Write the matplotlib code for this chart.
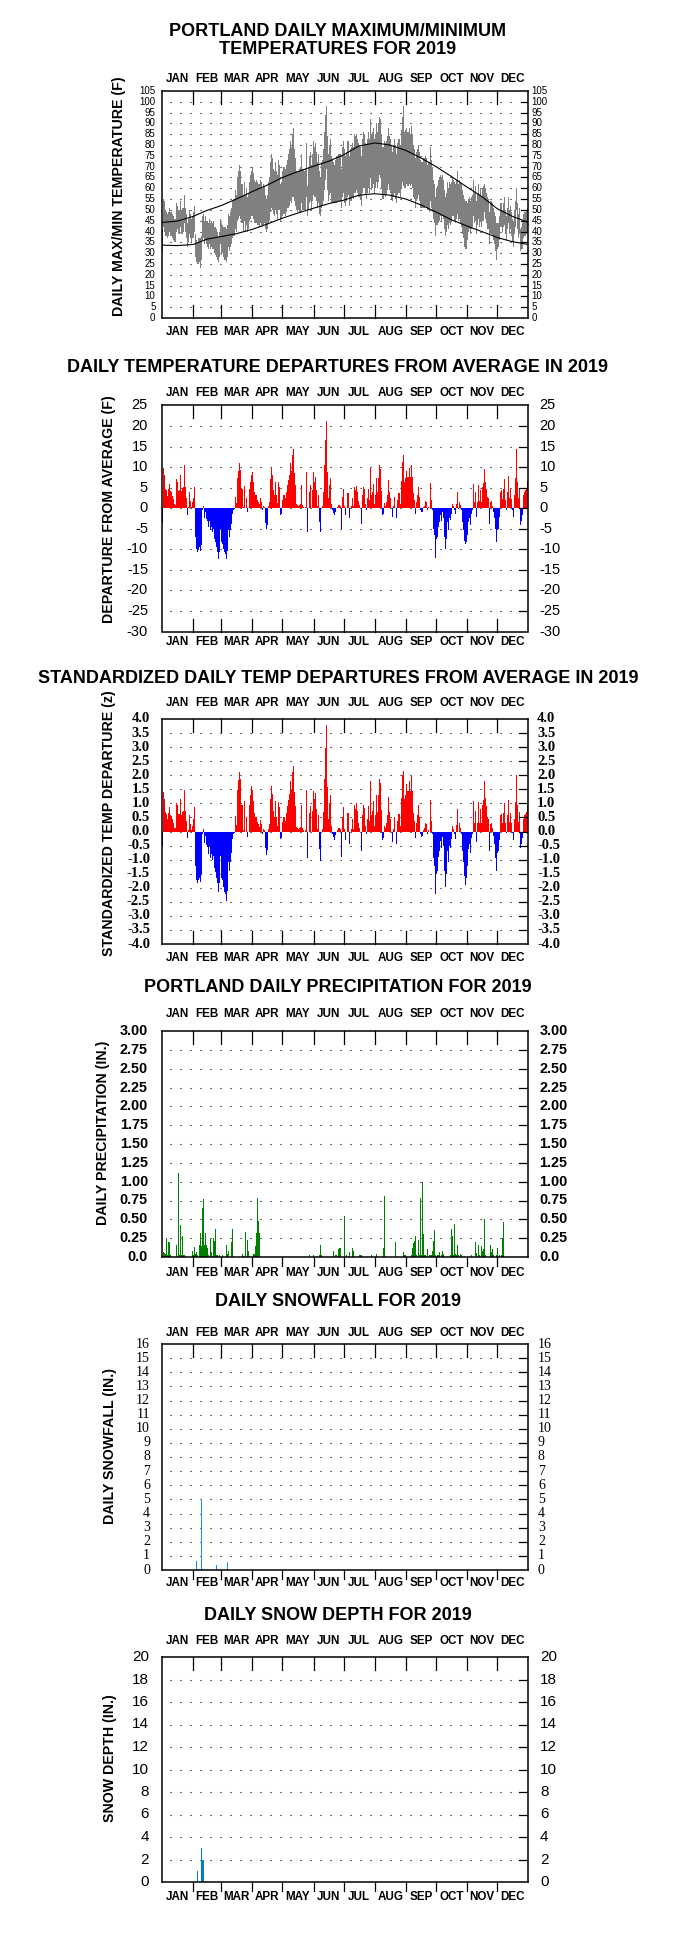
import numpy as np
import matplotlib.pyplot as plt
from matplotlib.transforms import blended_transform_factory as blend

W, H = 680, 1955
fig = plt.figure(figsize=(W / 100, H / 100), dpi=100)

MONTHS = ["JAN", "FEB", "MAR", "APR", "MAY", "JUN", "JUL", "AUG", "SEP", "OCT", "NOV", "DEC"]
MONTH_DAYS = [31, 28, 31, 30, 31, 30, 31, 31, 30, 31, 30, 31]

# daily max / min temperature (F), one row per month
tmax = [
    41, 55, 54, 50, 49, 48, 49, 51, 49, 49, 48, 47, 46, 46, 53, 52, 50, 50, 54, 50, 51, 51, 57, 51, 48, 44, 46, 50, 48, 46, 47,
    49, 52, 39, 36, 35, 37, 37, 37, 38, 47, 48, 45, 47, 45, 45, 44, 46, 44, 45, 44, 45, 42, 42, 41, 40, 38, 40, 46,
    44, 43, 42, 42, 42, 41, 43, 48, 47, 49, 51, 54, 55, 55, 59, 57, 65, 68, 71, 68, 62, 62, 57, 63, 57, 60, 56, 58, 63, 66, 68,
    70, 67, 64, 63, 64, 63, 62, 62, 64, 63, 60, 62, 61, 57, 55, 57, 63, 65, 72, 76, 74, 69, 68, 72, 68, 66, 73, 71, 62, 63,
    68, 70, 69, 71, 73, 76, 78, 82, 79, 85, 88, 78, 74, 68, 68, 68, 69, 70, 76, 69, 69, 68, 69, 81, 61, 70, 75, 77, 71, 76, 82,
    79, 81, 77, 72, 76, 68, 65, 72, 73, 78, 86, 94, 98, 84, 76, 80, 83, 75, 73, 72, 71, 73, 75, 75, 76, 76, 76, 69, 79, 82,
    78, 75, 77, 82, 82, 75, 78, 79, 81, 79, 85, 84, 85, 83, 81, 80, 79, 75, 83, 86, 85, 81, 80, 83, 86, 83, 92, 85, 86, 88, 83,
    85, 90, 86, 90, 93, 92, 85, 79, 79, 82, 81, 82, 84, 88, 84, 83, 80, 77, 80, 83, 80, 76, 81, 83, 83, 80, 87, 93, 98, 86, 87,
    88, 86, 86, 88, 85, 89, 85, 80, 78, 74, 77, 78, 80, 77, 73, 72, 72, 74, 74, 75, 74, 71, 72, 72, 79, 73, 70, 64, 62, 56,
    60, 61, 64, 65, 66, 65, 66, 64, 59, 56, 58, 63, 60, 63, 62, 63, 65, 64, 63, 62, 64, 68, 62, 64, 63, 62, 59, 57, 55, 54, 54,
    53, 55, 56, 54, 56, 57, 64, 58, 61, 54, 58, 62, 57, 60, 56, 60, 61, 62, 60, 58, 56, 55, 49, 54, 54, 53, 51, 49, 47, 44,
    44, 44, 47, 53, 53, 50, 53, 56, 50, 47, 51, 56, 50, 52, 49, 46, 45, 50, 54, 60, 53, 48, 51, 41, 42, 44, 48, 49, 49, 50, 51,
]
tmin = [
    30, 42, 40, 38, 38, 37, 38, 40, 38, 38, 37, 36, 35, 35, 40, 41, 39, 39, 42, 39, 39, 40, 44, 40, 37, 33, 35, 39, 37, 35, 37,
    37, 40, 28, 26, 25, 25, 26, 23, 27, 36, 37, 34, 36, 34, 33, 32, 34, 32, 33, 32, 32, 30, 29, 28, 27, 26, 28, 34,
    29, 30, 28, 27, 27, 26, 28, 33, 31, 33, 34, 37, 38, 38, 41, 40, 45, 46, 47, 46, 44, 44, 40, 45, 40, 43, 40, 41, 45, 46, 47,
    47, 46, 44, 44, 44, 43, 43, 42, 44, 43, 42, 43, 44, 41, 40, 41, 44, 45, 49, 51, 50, 48, 47, 50, 48, 46, 50, 50, 45, 46,
    47, 48, 47, 49, 51, 51, 52, 54, 53, 56, 56, 54, 52, 50, 49, 50, 49, 49, 53, 50, 50, 50, 50, 56, 47, 50, 53, 54, 50, 54, 57,
    56, 56, 54, 51, 53, 48, 47, 51, 52, 54, 59, 64, 69, 59, 54, 57, 58, 53, 53, 53, 53, 53, 53, 54, 54, 54, 54, 51, 56, 58,
    53, 52, 54, 56, 57, 52, 54, 54, 56, 55, 58, 58, 59, 58, 56, 56, 55, 52, 58, 60, 60, 57, 55, 58, 60, 58, 65, 59, 60, 62, 58,
    60, 63, 60, 63, 66, 65, 60, 55, 55, 57, 56, 57, 59, 62, 59, 58, 55, 54, 56, 58, 55, 53, 57, 58, 58, 56, 60, 63, 61, 60, 60,
    62, 61, 61, 62, 61, 62, 60, 56, 55, 51, 54, 55, 57, 54, 51, 51, 51, 51, 51, 52, 51, 50, 50, 49, 54, 51, 49, 46, 44, 38,
    43, 43, 44, 45, 47, 45, 47, 46, 41, 38, 40, 43, 41, 44, 43, 45, 47, 47, 45, 44, 46, 48, 45, 46, 44, 42, 39, 37, 33, 32, 32,
    36, 40, 41, 39, 41, 42, 47, 44, 45, 39, 43, 46, 42, 45, 42, 45, 45, 49, 46, 44, 41, 41, 34, 39, 39, 38, 36, 34, 31, 27,
    32, 33, 36, 42, 42, 40, 42, 43, 39, 36, 41, 44, 39, 41, 38, 35, 33, 39, 42, 50, 41, 37, 39, 31, 32, 32, 37, 38, 38, 39, 40,
]

# normal max / min, read at roughly half-month points
norm_day = [0, 15, 31, 45, 59, 74, 90, 105, 120, 135, 151, 166, 181, 196, 212, 227, 243, 258, 273, 288, 304, 319, 334, 349, 365]
norm_hi = [44.2, 44.8, 47, 49.8, 52, 55, 58.5, 61.5, 65, 67.7, 70.2, 72.5, 75.5, 79.5, 81, 80, 77.5, 74, 70, 65.5, 60.5, 56, 50.5, 47, 44.2]
norm_lo = [33.7, 33.5, 34, 36.5, 37.7, 39, 41, 43.5, 46.2, 48.5, 50.8, 52.9, 54.5, 56.8, 57.5, 56.8, 55, 52.3, 49, 45.5, 42.5, 39.9, 37.2, 35.3, 34]

# daily departure from average (F)
departure = [
    -3.6, 9.8, 8.0, 4.8, 4.4, 3.0, 4.6, 6.0, 4.2, 3.9, 3.0, 2.2, 1.0, 0.8, 7.0, 6.5, 4.3, 4.4, 8.0, 4.2, 5.0, 5.2, 10.4, 5.2, 2.5, -1.7, 0.3, 4.0, 1.8, 0.4, 1.5,
    2.5, 5.1, -7.0, -9.9, -10.7, -10.1, -9.5, -10.5, -9.0, -0.5, 0.5, -2.4, -1.0, -2.7, -3.2, -4.6, -3.2, -5.4, -4.6, -5.8, -5.0, -7.5, -8.3, -9.5, -10.7, -12.4, -10.7, -5.0,
    -8.3, -8.7, -9.9, -10.7, -11.1, -12.4, -10.5, -5.4, -7.0, -5.4, -3.8, -1.3, -0.5, -0.3, 2.8, 1.2, 7.3, 9.1, 11.0, 9.3, 4.8, 4.8, 0.3, 5.5, 0.0, 2.5, -0.9, 0.0, 4.8, 6.5, 8.1,
    8.8, 6.5, 4.0, 3.2, 3.2, 2.0, 1.6, 1.0, 2.4, 1.5, -0.5, 0.5, 0.3, -3.5, -5.0, -4.0, 0.5, 1.6, 7.0, 9.8, 8.0, 4.4, 3.2, 6.5, 3.2, 1.2, 6.3, 5.2, -1.7, -1.3,
    2.0, 3.2, 2.4, 4.0, 5.6, 6.9, 8.1, 11.0, 9.0, 13.0, 14.3, 8.5, 5.6, 1.0, 0.7, 0.5, 0.7, 1.0, 5.7, 0.7, 0.3, 0.0, 0.3, 8.9, -5.8, 0.0, 4.0, 5.6, 0.0, 4.4, 8.8,
    6.5, 7.7, 4.4, 0.5, 3.2, -3.4, -5.8, 0.0, 0.5, 4.0, 10.4, 16.7, 21.2, 8.9, 2.4, 5.6, 7.3, 1.1, -0.5, -1.2, -1.7, -0.8, 0.0, 0.3, 0.7, 0.7, 0.5, -5.0, 2.8, 4.8,
    0.5, -1.7, 0.0, 3.6, 3.6, -2.5, 0.0, 0.5, 2.4, 0.5, 5.2, 4.4, 5.4, 4.0, 1.7, 0.7, 0.0, -3.8, 3.2, 5.2, 4.6, 1.1, -0.5, 2.4, 4.8, 2.0, 9.8, 3.2, 4.0, 5.8, 1.1,
    3.2, 7.3, 4.0, 7.3, 10.4, 9.6, 4.3, -1.7, -1.3, 1.2, 0.6, 1.6, 3.2, 6.9, 3.9, 2.4, 0.0, -2.1, 0.5, 2.8, 0.0, -2.5, 2.0, 3.6, 3.6, 1.1, 6.6, 11.2, 13.0, 6.5, 7.3,
    9.1, 7.7, 7.7, 9.8, 7.7, 10.6, 7.7, 3.6, 2.0, -1.3, 1.6, 3.2, 5.2, 2.8, -0.5, -1.0, -0.9, 0.3, 0.6, 1.7, 1.4, -0.5, 0.3, 0.0, 6.1, 2.0, -0.5, -5.0, -6.6, -12.0,
    -7.5, -7.0, -4.6, -3.4, -1.7, -3.0, -0.9, -2.5, -7.0, -9.9, -7.5, -3.4, -5.4, -2.5, -2.9, -1.3, 1.0, 0.5, -0.5, -1.3, 1.1, 4.0, -0.1, 1.6, 0.7, -0.5, -3.4, -5.4, -7.9, -8.7, -8.3,
    -6.6, -3.4, -2.5, -4.2, -1.3, -0.5, 5.8, 1.6, 4.0, -2.1, 1.6, 5.6, 1.7, 4.4, 1.6, 5.2, 6.1, 9.6, 6.5, 4.8, 2.8, 2.4, -3.8, 1.4, 1.7, 0.6, -0.9, -2.5, -5.0, -8.3,
    -5.4, -5.0, -2.1, 4.0, 4.4, 2.2, 4.6, 7.1, 2.0, -0.5, 4.0, 7.9, 2.4, 4.6, 2.2, -0.5, -2.1, 3.2, 7.3, 14.5, 6.5, 2.4, 4.8, -4.2, -3.0, -1.7, 3.2, 4.0, 4.4, 5.0, 6.6,
]

# standardized daily departure (z)
std_dep = [
    -0.51, 1.40, 1.14, 0.69, 0.63, 0.43, 0.66, 0.86, 0.60, 0.56, 0.43, 0.31, 0.14, 0.11, 1.00, 0.93, 0.61, 0.63, 1.14, 0.60, 0.71, 0.74, 1.49, 0.74, 0.36, -0.24, 0.04, 0.57, 0.26, 0.06, 0.21,
    0.43, 0.88, -1.21, -1.71, -1.84, -1.74, -1.64, -1.81, -1.55, -0.09, 0.09, -0.41, -0.17, -0.47, -0.55, -0.79, -0.55, -0.93, -0.79, -1.00, -0.86, -1.29, -1.43, -1.64, -1.84, -2.14, -1.84, -0.86,
    -1.66, -1.74, -1.98, -2.14, -2.22, -2.48, -2.10, -1.08, -1.40, -1.08, -0.76, -0.26, -0.10, -0.06, 0.56, 0.24, 1.46, 1.82, 2.10, 1.86, 0.96, 0.96, 0.06, 1.10, 0.00, 0.50, -0.18, 0.00, 0.96, 1.30, 1.62,
    1.47, 1.08, 0.67, 0.53, 0.53, 0.33, 0.27, 0.17, 0.40, 0.25, -0.08, 0.08, 0.05, -0.58, -0.83, -0.67, 0.08, 0.27, 1.17, 1.63, 1.33, 0.73, 0.53, 1.08, 0.53, 0.20, 1.05, 0.87, -0.28, -0.22,
    0.33, 0.52, 0.39, 0.66, 0.92, 1.13, 1.33, 1.80, 1.48, 2.13, 2.34, 1.39, 0.92, 0.16, 0.11, 0.08, 0.11, 0.16, 0.93, 0.11, 0.05, 0.00, 0.05, 1.46, -0.95, 0.00, 0.66, 0.92, 0.00, 0.72, 1.44,
    1.16, 1.38, 0.79, 0.09, 0.57, -0.61, -1.04, 0.00, 0.09, 0.71, 1.86, 2.98, 3.79, 1.59, 0.43, 1.00, 1.30, 0.20, -0.09, -0.21, -0.30, -0.14, 0.00, 0.05, 0.13, 0.13, 0.09, -0.89, 0.50, 0.86,
    0.09, -0.31, 0.00, 0.67, 0.67, -0.46, 0.00, 0.09, 0.44, 0.09, 0.96, 0.81, 1.00, 0.74, 0.31, 0.13, 0.00, -0.70, 0.59, 0.96, 0.85, 0.20, -0.09, 0.44, 0.89, 0.37, 1.81, 0.59, 0.74, 1.07, 0.20,
    0.57, 1.30, 0.71, 1.30, 1.86, 1.71, 0.77, -0.30, -0.23, 0.21, 0.11, 0.29, 0.57, 1.23, 0.70, 0.43, 0.00, -0.38, 0.09, 0.50, 0.00, -0.45, 0.36, 0.64, 0.64, 0.20, 1.18, 2.00, 2.15, 1.16, 1.30,
    1.69, 1.43, 1.43, 1.81, 1.43, 1.96, 1.43, 0.67, 0.37, -0.24, 0.30, 0.59, 0.96, 0.52, -0.09, -0.19, -0.17, 0.06, 0.11, 0.31, 0.26, -0.09, 0.06, 0.00, 1.13, 0.37, -0.09, -0.93, -1.22, -2.22,
    -1.50, -1.40, -0.92, -0.68, -0.34, -0.60, -0.18, -0.50, -1.40, -1.98, -1.50, -0.68, -1.08, -0.50, -0.58, -0.26, 0.20, 0.10, -0.10, -0.26, 0.22, 0.80, -0.02, 0.32, 0.14, -0.10, -0.68, -1.08, -1.58, -1.90, -1.66,
    -1.22, -0.63, -0.46, -0.78, -0.24, -0.09, 1.07, 0.30, 0.74, -0.39, 0.30, 1.04, 0.31, 0.81, 0.30, 0.96, 1.13, 1.78, 1.20, 0.89, 0.52, 0.44, -0.70, 0.26, 0.31, 0.11, -0.17, -0.46, -0.93, -1.40,
    -0.77, -0.71, -0.30, 0.57, 0.63, 0.31, 0.66, 1.01, 0.29, -0.07, 0.57, 1.13, 0.34, 0.66, 0.31, -0.07, -0.30, 0.46, 1.04, 2.00, 0.93, 0.34, 0.69, -0.60, -0.43, -0.24, 0.46, 0.57, 0.63, 0.71, 0.94,
]

# daily precipitation (in.), day of year (0 = Jan 1) and amount
precip_day = [1, 2, 3, 4, 5, 6, 7, 8, 14, 16, 17, 18, 19, 20, 21, 22, 30, 31, 32, 33, 34, 35, 37, 38, 39, 40,
              41, 42, 43, 44, 45, 46, 48, 49, 51, 52, 53, 54, 55, 57, 60, 64, 65, 66, 69, 70, 80, 81, 83, 85,
              86, 91, 92, 93, 94, 95, 96, 97, 98, 99, 100, 101, 102, 103, 104, 105, 106, 108, 111, 112, 116,
              117, 118, 133, 134, 135, 136, 137, 138, 139, 141, 142, 144, 146, 150, 156, 157, 158, 170, 172,
              173, 175, 176, 177, 181, 183, 186, 189, 190, 196, 197, 198, 208, 213, 220, 221, 232, 240, 241,
              242, 248, 249, 250, 251, 252, 253, 255, 256, 257, 258, 259, 260, 261, 262, 264, 266, 267, 268,
              269, 270, 271, 272, 274, 275, 276, 278, 279, 280, 287, 288, 289, 290, 291, 292, 293, 294, 295,
              297, 298, 308, 312, 313, 315, 316, 318, 319, 320, 321, 322, 327, 328, 329, 330, 333, 334, 336,
              338, 339, 340, 341, 342, 343, 344, 345, 346, 347, 348, 350, 351, 352, 353, 354, 355, 356, 357,
              358, 360, 361, 364]
precip_in = [0.07, 0.05, 0.04, 0.25, 0.02, 0.20, 0.20, 0.02, 0.16, 1.11, 0.02, 0.43, 0.02, 0.28, 0.03, 0.02, 0.08, 0.03, 0.13, 0.04, 0.07, 0.02, 0.16, 0.32, 0.15, 0.65,
             0.77, 0.16, 0.32, 0.16, 0.12, 0.02, 0.24, 0.07, 0.25, 0.21, 0.37, 0.02, 0.02, 0.02, 0.03, 0.16, 0.04, 0.08, 0.20, 0.37, 0.04, 0.01, 0.33, 0.23,
             0.08, 0.04, 0.04, 0.14, 0.32, 0.78, 0.48, 0.32, 0.12, 0.07, 0.20, 0.04, 0.12, 0.04, 0.12, 0.04, 0.02, 0.19, 0.02, 0.02, 0.02,
             0.02, 0.02, 0.12, 0.21, 0.04, 0.02, 0.20, 0.41, 0.07, 0.12, 0.04, 0.37, 0.02, 0.02, 0.02, 0.16, 0.02, 0.08, 0.02,
             0.02, 0.10, 0.12, 0.12, 0.54, 0.02, 0.06, 0.12, 0.08, 0.02, 0.02, 0.02, 0.02, 0.04, 0.12, 0.81, 0.20, 0.07, 0.02,
             0.02, 0.02, 0.12, 0.18, 0.21, 0.28, 0.02, 0.23, 0.02, 0.78, 0.02, 1.00, 0.31, 0.02, 0.02, 0.10, 0.02, 0.02, 0.02,
             0.08, 0.21, 0.36, 0.03, 0.02, 0.03, 0.07, 0.02, 0.08, 0.04, 0.02, 0.37, 0.28, 0.03, 0.44, 0.04, 0.02, 0.16, 0.02,
             0.04, 0.02, 0.02, 0.20, 0.05, 0.16, 0.02, 0.14, 0.08, 0.11, 0.50, 0.02, 0.16, 0.06, 0.10, 0.02, 0.02, 0.12, 0.02,
             0.02, 0.25, 0.47, 0.02, 0.02, 0.32, 0.29, 0.31, 0.02, 0.04, 0.02, 0.02, 0.19, 0.64, 0.40, 0.89, 0.17, 0.08, 0.03,
             0.02, 0.02, 0.03, 0.23]

# daily snowfall and snow depth (in.)
snow_day = [34, 35, 39, 40, 52, 54, 55, 65, 333]
snow_in = [0.65, 0.1, 5.0, 0.1, 0.1, 0.35, 0.1, 0.55, 0.05]
depth_day = [35, 39, 40, 41]
depth_in = [1, 3, 2, 2]

assert len(tmax) == len(tmin) == len(departure) == len(std_dep) == 365
assert len(precip_day) == len(precip_in)

starts = np.concatenate([[0], np.cumsum(MONTH_DAYS)])
days = np.arange(365) + 0.5

SANS = "Liberation Sans"
SERIF = "Liberation Serif"
BOX_L, BOX_R = 162, 528.5


def fy(py):
    return 1 - py / H


def panel(top, bottom, ylim, vals, texts, tfont, lpad, rpad, rlen, titles, ylabel, ylab_xy,
          mtop, mbot, bottom_out=False):
    ax = fig.add_axes([BOX_L / W, fy(bottom), (BOX_R - BOX_L) / W, (bottom - top) / H])
    ax.set_xlim(0, 365)
    ax.set_ylim(*ylim)
    ax.set_xticks([])
    ax.set_yticks([])
    for sp in ax.spines.values():
        sp.set_linewidth(1.1)
    h = bottom - top
    tx = ax.get_xaxis_transform()
    for b in starts[1:12]:
        ax.plot([b, b], [1, 1 - 13 / h], transform=tx, color="black", lw=0.9, clip_on=False, zorder=4)
        if bottom_out:
            ax.plot([b, b], [0, -9 / h], transform=tx, color="black", lw=0.9, clip_on=False, zorder=4)
        else:
            ax.plot([b, b], [0, 13 / h], transform=tx, color="black", lw=0.9, clip_on=False, zorder=4)
    inner = [v for v in vals if ylim[0] < v < ylim[1]]
    ax.hlines(inner, 7.5, 352, colors="black", linestyles=[(0, (1, 8))], lw=0.8, zorder=1)
    ty = ax.get_yaxis_transform()
    for v in inner:
        ax.plot([1 - rlen / (BOX_R - BOX_L), 1], [v, v], transform=ty, color="black", lw=0.9, zorder=4)
    lt = blend(fig.transFigure, ax.transData)
    for v, s in zip(vals, texts):
        ax.text((BOX_L - lpad) / W, v, s, transform=lt, ha="right", va="center", clip_on=False, **tfont)
        ax.text((BOX_R + rpad) / W, v, s, transform=lt, ha="left", va="center", clip_on=False, **tfont)
    mt = blend(ax.transData, fig.transFigure)
    for i, m in enumerate(MONTHS):
        c = starts[i] + MONTH_DAYS[i] / 2
        for yy in (mtop, mbot):
            ax.text(c, fy(yy), m, transform=mt, ha="center", va="center", family=SANS,
                    fontweight="bold", fontsize=8.4, clip_on=False)
    for txt, yy in titles:
        fig.text(0.497, fy(yy), txt, ha="center", va="center", family=SANS, fontweight="bold", fontsize=13)
    fig.text(ylab_xy[0] / W, fy(ylab_xy[1]), ylabel, rotation=90, ha="center", va="center",
             family=SANS, fontweight="bold", fontsize=10.2)
    return ax


# 1) daily max / min temperature
v1 = list(range(0, 106, 5))
ax1 = panel(91, 318, (0, 105), v1, [str(v) for v in v1], dict(family=SANS, fontsize=7),
            6.5, 3, 7, [("PORTLAND DAILY MAXIMUM/MINIMUM", 31), ("TEMPERATURES FOR 2019", 50)],
            "DAILY MAX/MIN TEMPERATURE (F)", (119, 196.5), 79, 332)
ax1.bar(days, np.array(tmax) - np.array(tmin), bottom=tmin, width=1.0, color="#808080", lw=0, zorder=2)
ax1.plot(norm_day, norm_hi, color="black", lw=0.8, zorder=3)
ax1.plot(norm_day, norm_lo, color="black", lw=0.8, zorder=3)

# 2) departures
v2 = list(range(-30, 26, 5))
ax2 = panel(405.5, 631.5, (-30, 25), v2, [str(v) for v in v2], dict(family=SANS, fontsize=10.5),
            14, 11, 9, [("DAILY TEMPERATURE DEPARTURES FROM AVERAGE IN 2019", 367)],
            "DEPARTURE FROM AVERAGE (F)", (109, 509), 393, 642)
dep = np.array(departure)
ax2.bar(days, dep, width=1.0, color=np.where(dep >= 0, "#ff0000", "#0000ff"), lw=0, zorder=2)

# 3) standardized departures
v3 = [x / 2 for x in range(-8, 9)]
ax3 = panel(719, 944, (-4, 4), v3, [f"{v:.1f}" for v in v3], dict(family=SERIF, fontsize=10.5, fontweight="bold"),
            12, 8.5, 9, [("STANDARDIZED DAILY TEMP DEPARTURES FROM AVERAGE IN 2019", 678)],
            "STANDARDIZED TEMP DEPARTURE (z)", (109, 823), 703, 958)
sd = np.array(std_dep)
ax3.bar(days, sd, width=1.0, color=np.where(sd >= 0, "#ff0000", "#0000ff"), lw=0, zorder=2)

# 4) precipitation
v4 = [x / 4 for x in range(0, 13)]
ax4 = panel(1031, 1257, (0, 3), v4, ["0.0"] + [f"{v:.2f}" for v in v4[1:]],
            dict(family=SANS, fontsize=10.4, fontweight="bold"),
            14, 11, 9, [("PORTLAND DAILY PRECIPITATION FOR 2019", 988)],
            "DAILY PRECIPITATION (IN.)", (103, 1132.5), 1014, 1273, bottom_out=True)
ax4.bar(np.array(precip_day) + 0.5, precip_in, width=0.8, color="#008000", lw=0, zorder=2)

# 5) snowfall
v5 = list(range(0, 17))
ax5 = panel(1344, 1570, (0, 16), v5, [str(v) for v in v5], dict(family=SERIF, fontsize=10),
            12, 9.5, 9, [("DAILY SNOWFALL FOR 2019", 1302)],
            "DAILY SNOWFALL (IN.)", (110, 1445.5), 1333, 1583, bottom_out=True)
ax5.bar(np.array(snow_day) + 0.5, snow_in, width=0.9, color="#1a8cff", lw=0, zorder=2)

# 6) snow depth
v6 = list(range(0, 21, 2))
ax6 = panel(1657, 1882, (0, 20), v6, [str(v) for v in v6], dict(family=SANS, fontsize=11),
            13, 11.5, 9, [("DAILY SNOW DEPTH FOR 2019", 1615)],
            "SNOW DEPTH (IN.)", (110, 1758), 1641, 1897, bottom_out=True)
ax6.bar(np.array(depth_day) + 0.5, depth_in, width=1.0, color="#0080c8", lw=0, zorder=2)

fig.savefig("out.png", dpi=100)
